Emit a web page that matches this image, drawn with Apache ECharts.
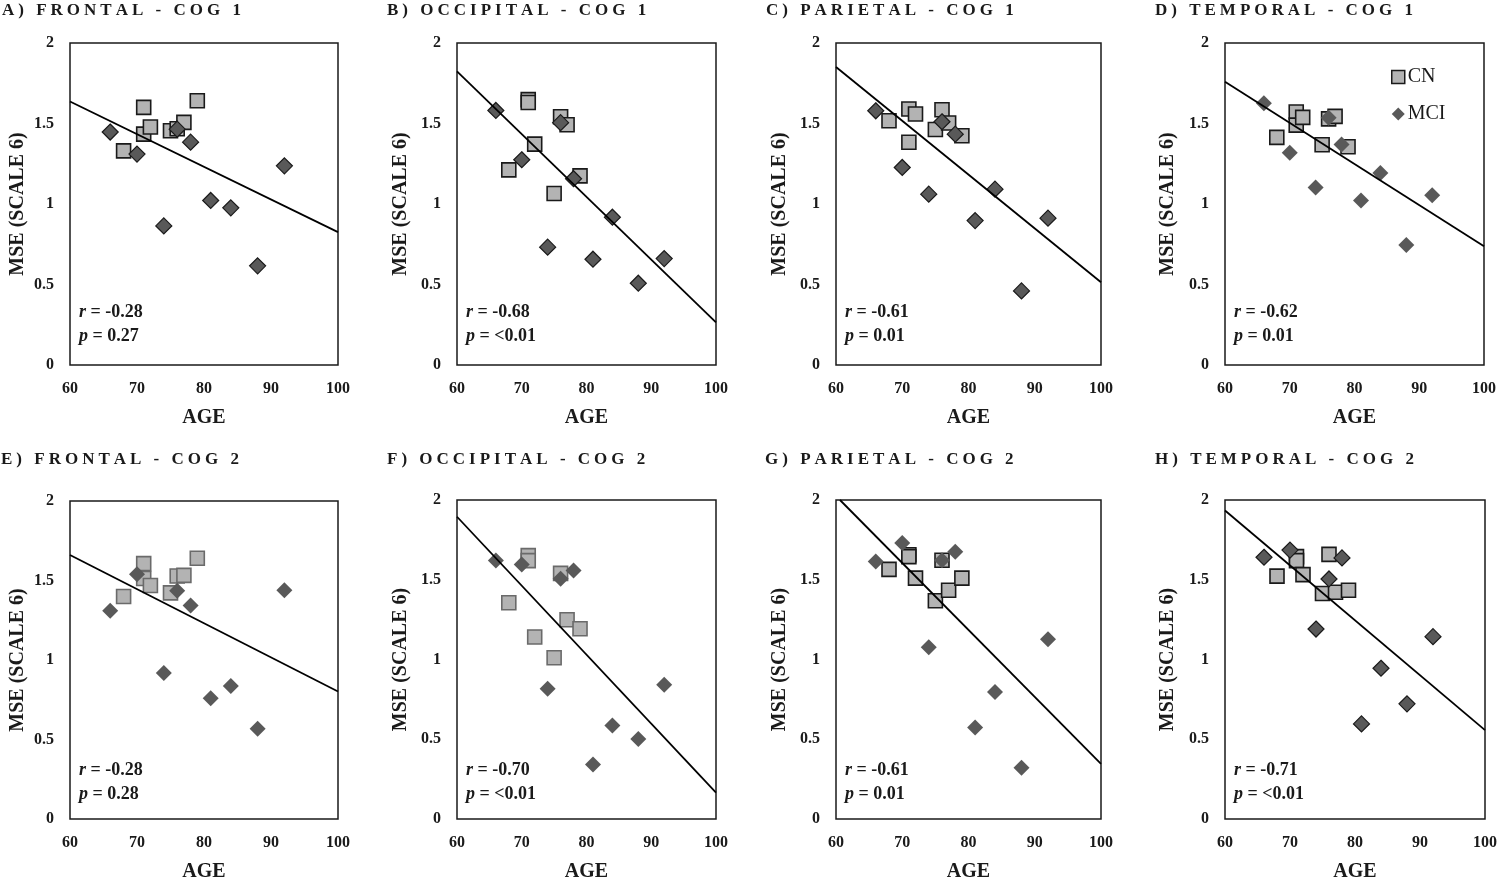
<!DOCTYPE html>
<html>
<head>
<meta charset="utf-8">
<script src="https://cdn.jsdelivr.net/npm/echarts@6/dist/echarts.min.js"></script>
<style>
html,body{margin:0;padding:0;background:#fff;}
#chart{width:1500px;height:883px;}
</style>
</head>
<body>
<div id="chart"></div>
<script>
// ---------- DATA ----------
const panelTitles = ['A) FRONTAL - COG 1','B) OCCIPITAL - COG 1','C) PARIETAL - COG 1','D) TEMPORAL - COG 1',
                     'E) FRONTAL - COG 2','F) OCCIPITAL - COG 2','G) PARIETAL - COG 2','H) TEMPORAL - COG 2'];
const xTicks = [60, 70, 80, 90, 100];
const yTicks = [0, 0.5, 1, 1.5, 2];
const cnAge  = [68, 71, 71, 72, 75, 76, 77, 79];
const mciAge = [66, 70, 74, 76, 78, 81, 84, 88, 92];

const cnA  = [1.33, 1.60, 1.434, 1.478, 1.455, 1.467, 1.507, 1.641];
const cnB  = [1.212, 1.648, 1.63, 1.372, 1.065, 1.542, 1.492, 1.175];
const cnC  = [1.517, 1.59, 1.384, 1.559, 1.463, 1.585, 1.503, 1.424];
const cnD  = [1.414, 1.571, 1.49, 1.538, 1.368, 1.529, 1.544, 1.356];
const cnE  = [1.399, 1.606, 1.513, 1.469, 1.422, 1.528, 1.532, 1.64];
const cnF  = [1.356, 1.651, 1.62, 1.141, 1.011, 1.54, 1.249, 1.193];
const cnG  = [1.565, 1.657, 1.645, 1.51, 1.368, 1.622, 1.434, 1.51];
const cnH  = [1.523, 1.645, 1.62, 1.532, 1.414, 1.659, 1.422, 1.434];

const mciA = [1.447, 1.31, 0.864, 1.465, 1.384, 1.022, 0.976, 0.616, 1.237];
const mciB = [1.581, 1.275, 0.732, 1.505, 1.157, 0.657, 0.918, 0.508, 0.661];
const mciC = [1.579, 1.227, 1.061, 1.511, 1.434, 0.897, 1.092, 0.46, 0.912];
const mciD = [1.626, 1.319, 1.102, 1.536, 1.370, 1.022, 1.193, 0.745, 1.055];
const mciE = [1.310, 1.540, 0.918, 1.436, 1.343, 0.759, 0.837, 0.568, 1.438];
const mciF = [1.620, 1.595, 0.817, 1.507, 1.558, 0.341, 0.586, 0.502, 0.842];
const mciG = [1.614, 1.730, 1.077, 1.622, 1.676, 0.574, 0.797, 0.322, 1.127];
const mciH = [1.641, 1.686, 1.191, 1.505, 1.637, 0.596, 0.945, 0.722, 1.143];

// regression line end points [age, value]
const fitA = [[60, 1.637], [100, 0.825]];
const fitB = [[60, 1.824], [100, 0.265]];
const fitC = [[60, 1.851], [100, 0.514]];
const fitD = [[60, 1.759], [100, 0.737]];
const fitE = [[60, 1.660], [100, 0.802]];
const fitF = [[60, 1.895], [100, 0.165]];
const fitG = [[60.6, 2.0], [100, 0.345]];
const fitH = [[60, 1.934], [100, 0.557]];

const rVals = ['-0.28', '-0.68', '-0.61', '-0.62', '-0.28', '-0.70', '-0.61', '-0.71'];
const pVals = ['0.27', '<0.01', '0.01', '0.01', '0.28', '<0.01', '0.01', '<0.01'];

const cnSets  = [cnA, cnB, cnC, cnD, cnE, cnF, cnG, cnH];
const mciSets = [mciA, mciB, mciC, mciD, mciE, mciF, mciG, mciH];
const fitSets = [fitA, fitB, fitC, fitD, fitE, fitF, fitG, fitH];

// ---------- LAYOUT / STYLE ----------
const grids = [
  [70, 43, 268, 322], [457, 43, 259, 322], [836, 43, 265, 322], [1225, 43, 259, 322],
  [70, 501, 268, 322], [457, 500, 259, 323], [836, 500, 265, 323], [1225, 500, 260, 323]
];
const titlePos = [[2, 2], [387, 2], [766, 2], [1155, 2], [1, 451], [387, 451], [765, 451], [1155, 451]];
const yNameGap = [42, 46, 46, 47, 42, 46, 46, 47];
const sqBorder  = ['#1a1a1a','#1a1a1a','#1a1a1a','#1a1a1a','#6a6a6a','#6a6a6a','#1a1a1a','#1a1a1a'];
const diaBorder = [1, 1, 1, 0, 0, 0, 0, 1];
const FONT = "Liberation Serif";
const INK = '#1a1a1a';

// letter-spaced title: each character is its own rich-text token with right padding
function spaced(str) {
  return str.split('').map(c => '{s|' + c + '}').join('');
}

const option = {
  animation: false,
  backgroundColor: '#fff',
  grid: [], xAxis: [], yAxis: [], series: [], title: [],
  legend: {
    left: 1391, top: 67, orient: 'vertical', itemGap: 17, itemWidth: 13, itemHeight: 13,
    selectedMode: false, padding: 0,
    textStyle: {fontFamily: FONT, fontWeight: 'normal', fontSize: 20, color: INK, padding: [0, 0, 0, -2]},
    data: [
      {name: 'CN', icon: 'rect', itemStyle: {color: '#b3b3b3', borderColor: INK, borderWidth: 1.5}},
      {name: 'MCI', icon: 'diamond', itemStyle: {color: '#595959', borderWidth: 0}}
    ]
  }
};

for (let i = 0; i < 8; i++) {
  const g = grids[i];
  option.grid.push({left: g[0], top: g[1], width: g[2], height: g[3], show: true,
    borderColor: INK, borderWidth: 1.5, backgroundColor: 'transparent'});
  option.xAxis.push({
    type: 'value', gridIndex: i, min: xTicks[0], max: xTicks[xTicks.length - 1], interval: 10,
    axisLine: {show: false}, axisTick: {show: false}, splitLine: {show: false},
    axisLabel: {fontFamily: FONT, fontWeight: 'bold', fontSize: 16, color: INK, margin: 16},
    name: 'AGE', nameLocation: 'middle', nameGap: 43,
    nameTextStyle: {fontFamily: FONT, fontWeight: 'bold', fontSize: 20, color: INK}
  });
  option.yAxis.push({
    type: 'value', gridIndex: i, min: yTicks[0], max: yTicks[yTicks.length - 1], interval: 0.5,
    axisLine: {show: false}, axisTick: {show: false}, splitLine: {show: false},
    axisLabel: {fontFamily: FONT, fontWeight: 'bold', fontSize: 16, color: INK, margin: 16},
    name: 'MSE (SCALE 6)', nameLocation: 'middle', nameGap: yNameGap[i],
    nameTextStyle: {fontFamily: FONT, fontWeight: 'bold', fontSize: 20, color: INK}
  });
  option.series.push({
    type: 'scatter', name: 'CN', xAxisIndex: i, yAxisIndex: i, symbol: 'rect', symbolSize: 14, z: 2,
    itemStyle: {color: '#b3b3b3', borderColor: sqBorder[i], borderWidth: 1.6, opacity: 1},
    data: cnAge.map((a, k) => [a, cnSets[i][k]])
  });
  option.series.push({
    type: 'scatter', name: 'MCI', xAxisIndex: i, yAxisIndex: i, symbol: 'diamond', symbolSize: 16, z: 3,
    itemStyle: {color: '#595959', borderColor: INK, borderWidth: diaBorder[i] ? 1.2 : 0, opacity: 1},
    data: mciAge.map((a, k) => [a, mciSets[i][k]])
  });
  option.series.push({
    type: 'line', name: 'fit', xAxisIndex: i, yAxisIndex: i, symbol: 'none', z: 4, silent: true,
    lineStyle: {color: '#000', width: 1.8}, data: fitSets[i]
  });
  option.title.push({
    text: spaced(panelTitles[i]), left: titlePos[i][0], top: titlePos[i][1], padding: 0,
    textStyle: {fontFamily: FONT, fontWeight: 'bold', fontSize: 17, color: INK,
      rich: {s: {fontFamily: FONT, fontWeight: 'bold', fontSize: 17, color: INK, padding: [0, 4, 0, 0]}}}
  });
  option.title.push({
    text: '{i|r} = ' + rVals[i] + '\n{i|p} = ' + pVals[i],
    left: g[0] + 9, top: g[1] + g[3] - 65, padding: 0,
    textStyle: {fontFamily: FONT, fontWeight: 'bold', fontSize: 18, color: INK, lineHeight: 24,
      rich: {i: {fontFamily: FONT, fontWeight: 'bold', fontStyle: 'italic', fontSize: 18, color: INK, lineHeight: 24}}}
  });
}

const chart = echarts.init(document.getElementById('chart'), null, {renderer: 'canvas'});
chart.setOption(option);
</script>
</body>
</html>
